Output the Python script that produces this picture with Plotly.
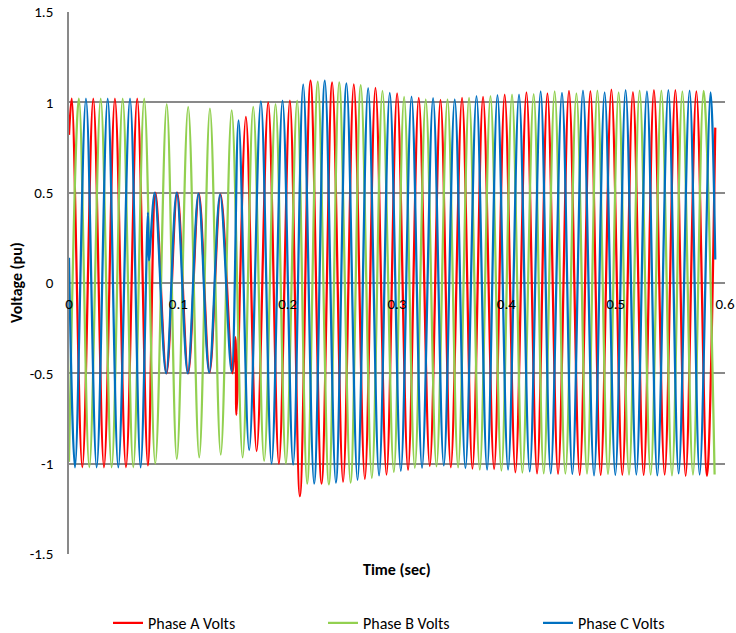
import plotly.graph_objects as go

# Extrema (peaks / troughs) of each phase, time in s, voltage in pu
t_a = [0.0000, 0.0025, 0.0122, 0.0222, 0.0320, 0.0420, 0.0521, 0.0624, 0.0722, 0.0791,
       0.0892, 0.0990, 0.1090, 0.1188, 0.1286, 0.1386, 0.1495, 0.1522, 0.1531, 0.1618,
       0.1716, 0.1822, 0.1920, 0.2020, 0.2112, 0.2209, 0.2310, 0.2407, 0.2507, 0.2605,
       0.2706, 0.2803, 0.2904, 0.3001, 0.3101, 0.3199, 0.3300, 0.3398, 0.3492, 0.3595,
       0.3690, 0.3787, 0.3888, 0.3985, 0.4083, 0.4184, 0.4281, 0.4376, 0.4473, 0.4573,
       0.4671, 0.4769, 0.4863, 0.4961, 0.5061, 0.5158, 0.5256, 0.5350, 0.5448, 0.5546,
       0.5640, 0.5738, 0.5835, 0.5911]
v_a = [0.82, 1.02, -1.02, 1.02, -1.02, 1.02, -1.02, 1.02, -1.01, 0.50,
       -0.50, 0.50, -0.50, 0.495, -0.495, 0.49, -0.50, -0.30, -0.73, 0.92,
       -0.93, 1.00, -1.00, 1.01, -1.18, 1.12, -1.11, 1.11, -1.10, 1.10,
       -1.085, 1.08, -1.06, 1.05, -1.035, 1.025, -1.013, 1.013, -1.02, 1.025,
       -1.028, 1.03, -1.03, 1.043, -1.048, 1.055, -1.054, 1.05, -1.057, 1.063,
       -1.063, 1.062, -1.063, 1.07, -1.062, 1.057, -1.063, 1.068, -1.06, 1.067,
       -1.067, 1.06, -1.067, 0.86]

t_b = [0.0000, 0.0091, 0.0186, 0.0290, 0.0390, 0.0491, 0.0588, 0.0688, 0.0789, 0.0894,
       0.0986, 0.1090, 0.1191, 0.1289, 0.1388, 0.1488, 0.1588, 0.1685, 0.1785, 0.1889,
       0.1984, 0.2087, 0.2178, 0.2276, 0.2377, 0.2471, 0.2575, 0.2669, 0.2770, 0.2867,
       0.2971, 0.3065, 0.3163, 0.3263, 0.3361, 0.3462, 0.3559, 0.3659, 0.3757, 0.3855,
       0.3955, 0.4052, 0.4147, 0.4250, 0.4342, 0.4442, 0.4540, 0.4641, 0.4738, 0.4833,
       0.4930, 0.5027, 0.5122, 0.5219, 0.5320, 0.5418, 0.5515, 0.5610, 0.5707, 0.5804,
       0.5905]
v_b = [-0.99, 1.02, -1.02, 1.02, -1.02, 1.02, -1.02, 1.02, -1.00, 0.99,
       -0.975, 0.975, -0.965, 0.965, -0.95, 0.955, -0.965, 0.975, -0.985, 0.99,
       -1.00, 1.01, -1.11, 1.115, -1.115, 1.11, -1.105, 1.095, -1.08, 1.063,
       -1.047, 1.03, -1.023, 1.017, -1.015, 1.017, -1.02, 1.025, -1.033, 1.035,
       -1.038, 1.043, -1.05, 1.046, -1.054, 1.06, -1.055, 1.05, -1.055, 1.065,
       -1.058, 1.055, -1.06, 1.065, -1.06, 1.065, -1.065, 1.06, -1.06, 1.063,
       -1.06]

t_c = [0.0000, 0.0055, 0.0155, 0.0253, 0.0354, 0.0451, 0.0558, 0.0655, 0.0722, 0.0731,
       0.0784, 0.0888, 0.0985, 0.1086, 0.1184, 0.1282, 0.1382, 0.1487, 0.1551, 0.1648,
       0.1755, 0.1853, 0.1953, 0.2050, 0.2142, 0.2242, 0.2340, 0.2441, 0.2538, 0.2639,
       0.2736, 0.2836, 0.2934, 0.3035, 0.3133, 0.3229, 0.3330, 0.3428, 0.3528, 0.3626,
       0.3727, 0.3824, 0.3919, 0.4016, 0.4116, 0.4214, 0.4314, 0.4406, 0.4509, 0.4604,
       0.4701, 0.4802, 0.4899, 0.4997, 0.5091, 0.5189, 0.5286, 0.5381, 0.5482, 0.5576,
       0.5676, 0.5768, 0.5868, 0.5911]
v_c = [0.14, -1.02, 1.02, -1.02, 1.02, -1.02, 1.02, -1.02, 0.39, 0.125,
       0.50, -0.50, 0.50, -0.50, 0.495, -0.495, 0.49, -0.49, 0.90, -0.925,
       1.005, -1.00, 1.01, -1.005, 1.10, -1.11, 1.12, -1.105, 1.105, -1.09,
       1.078, -1.065, 1.053, -1.04, 1.032, -1.023, 1.023, -1.01, 1.017, -1.025,
       1.035, -1.033, 1.04, -1.033, 1.043, -1.043, 1.06, -1.054, 1.053, -1.058,
       1.065, -1.065, 1.055, -1.063, 1.067, -1.06, 1.06, -1.065, 1.067, -1.054,
       1.065, -1.06, 1.055, 0.13]

series = [
    ("Phase A Volts", t_a, v_a, "#FF0000"),
    ("Phase B Volts", t_b, v_b, "#92D050"),
    ("Phase C Volts", t_c, v_c, "#0070C0"),
]

x_ticks = [0, 0.1, 0.2, 0.3, 0.4, 0.5, 0.6]
x_tick_text = ["0", "0.1", "0.2", "0.3", "0.4", "0.5", "0.6"]
y_ticks = [-1.5, -1, -0.5, 0, 0.5, 1, 1.5]
y_tick_text = ["-1.5", "-1", "-0.5", "0", "0.5", "1", "1.5"]

FONT = "Calibri, Carlito, 'Liberation Sans', Arial, sans-serif"
GRID = "#898989"
L, R, T, B = 69, 11, 12, 79
W, H = 736, 633
PW, PH = W - L - R, H - T - B

fig = go.Figure()
legend_names = ["legend", "legend2", "legend3"]
for (name, t, v, col), lg in zip(series, legend_names):
    fig.add_trace(go.Scatter(x=t, y=v, mode="lines", name=name, legend=lg,
                             line=dict(color=col, width=2.25, shape="spline", smoothing=1)))

legend_px = [108, 323, 538]
legend_common = dict(orientation="h", xanchor="left", y=(H - B - 623) / PH, yanchor="middle",
                     font=dict(size=16), itemclick=False, itemdoubleclick=False,
                     bgcolor="rgba(0,0,0,0)", borderwidth=0)

fig.update_layout(
    width=W, height=H,
    margin=dict(l=L, r=R, t=T, b=B, autoexpand=False),
    paper_bgcolor="white", plot_bgcolor="white",
    font=dict(family=FONT, size=15, color="#000000"),
    showlegend=True,
    legend=dict(x=(legend_px[0] - L) / PW, **legend_common),
    legend2=dict(x=(legend_px[1] - L) / PW, **legend_common),
    legend3=dict(x=(legend_px[2] - L) / PW, **legend_common),
    xaxis=dict(range=[0, 0.6], tickvals=x_ticks, ticktext=x_tick_text,
               showgrid=False, zeroline=False, showline=False, ticks="",
               anchor="free", position=0.5, ticklabelstandoff=10, automargin=False,
               tickfont=dict(size=15)),
    yaxis=dict(range=[-1.5, 1.5], tickvals=y_ticks, ticktext=y_tick_text,
               showgrid=True, gridcolor=GRID, gridwidth=1.5,
               zeroline=False, showline=True, linecolor=GRID, linewidth=1.5,
               ticks="", ticklabelstandoff=11, automargin=False, tickfont=dict(size=15)),
    annotations=[
        dict(text="<b>Time (sec)</b>", xref="paper", yref="paper", x=0.5, y=(H - B - 569) / PH,
             xanchor="center", yanchor="middle", showarrow=False, font=dict(size=16)),
        dict(text="<b>Voltage (pu)</b>", xref="paper", yref="paper", x=(16 - L) / PW, y=0.5,
             xanchor="center", yanchor="middle", textangle=-90, showarrow=False,
             font=dict(size=16)),
    ],
)

fig.write_html("out.html", config={"displayModeBar": False},
               post_script="document.body.style.margin='0';document.body.style.overflow='hidden';")
